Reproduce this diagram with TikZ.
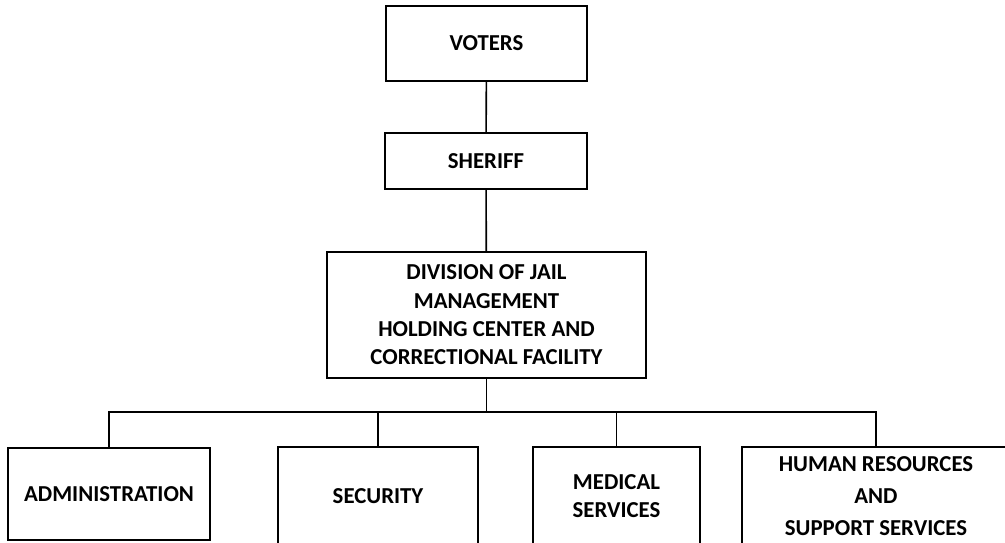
\documentclass[tikz,border=0pt]{standalone}
\usepackage{fontspec}
\setmainfont{Carlito}
\begin{document}
\begin{tikzpicture}[x=1pt,y={(0pt,-1pt)},
  box/.style={draw=black, line width=1.8pt, fill=none, inner sep=0pt, align=center,
    font=\bfseries\fontsize{22.8}{28.3}\selectfont},
  link/.style={draw=black, line width=1.6pt}]
\path[use as bounding box] (0,0) rectangle (1005,542);
\clip (0,0) rectangle (1005,542);
\node[box, minimum width=201pt, minimum height=75pt] (voters) at (486.5,43.5) {VOTERS};
\node[box, minimum width=202pt, minimum height=56pt] (sheriff) at (486,161) {SHERIFF};
\node[box, minimum width=319pt, minimum height=126pt] (div) at (486.5,315)
  {DIVISION OF JAIL\\MANAGEMENT\\HOLDING CENTER AND\\CORRECTIONAL FACILITY};
\node[box, minimum width=202pt, minimum height=92pt] (admin) at (109,494) {ADMINISTRATION};
\node[box, minimum width=200pt, minimum height=98pt] (security) at (378,496) {SECURITY};
\node[box, minimum width=167pt, minimum height=98pt] (medical) at (616.5,496) {MEDICAL\\SERVICES};
\node[box, minimum width=268pt, minimum height=98pt, font=\bfseries\fontsize{22.8}{32}\selectfont] (hr) at (876,496)
  {HUMAN RESOURCES\\AND\\SUPPORT SERVICES};
\coordinate (bus) at (486.5,412);
\draw[link] (voters) -- (sheriff);
\draw[link] (sheriff) -- (div);
\draw[link] (div.south) -- (bus);
\draw[link] (admin.north) |- (bus) -| (hr.north);
\draw[link] (security.north) -- (security.north |- bus);
\draw[link] (medical.north) -- (medical.north |- bus);
\end{tikzpicture}
\end{document}
